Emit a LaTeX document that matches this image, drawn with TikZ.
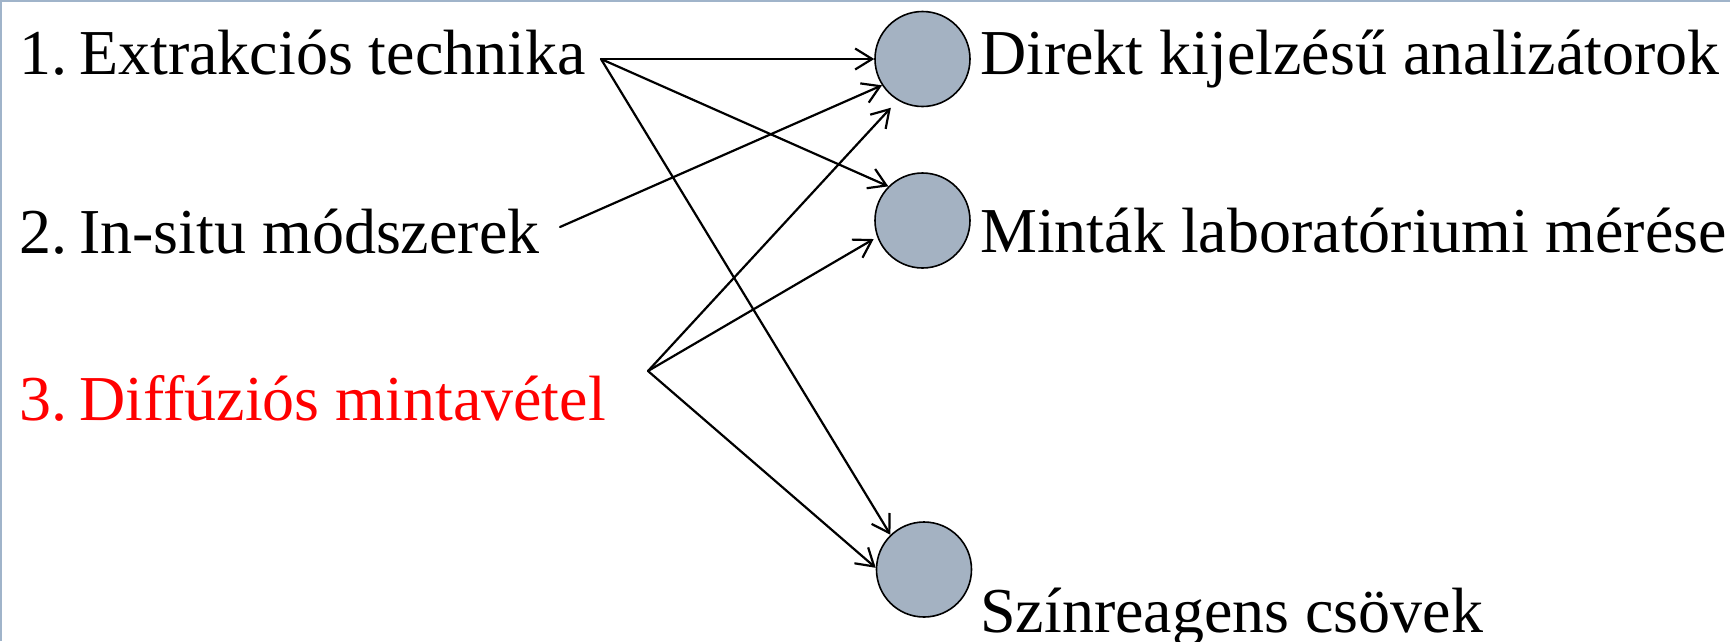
\documentclass[tikz,border=0pt]{standalone}
\usepackage{fontspec}
\setmainfont{Liberation Serif}
\newfontfamily\timesfont{Liberation Serif}
\usetikzlibrary{arrows.meta}
\definecolor{circfill}{RGB}{164,178,194}
\definecolor{framecol}{RGB}{160,180,202}
\definecolor{redtext}{RGB}{255,0,0}
\begin{document}
\begin{tikzpicture}[x=1pt,y=-1pt,
  lbl/.style={anchor=base west,inner sep=0pt,font=\timesfont\fontsize{64}{76}\selectfont},
  dot/.style={circle,draw=black,line width=1.6pt,fill=circfill,minimum size=95pt,inner sep=0pt},
  conn/.style={draw=black,line width=2.2pt,line cap=round,line join=round,
    -{Straight Barb[length=17pt,width=21pt,line width=2.2pt]}}]
\useasboundingbox (0,0) rectangle (1730,641);
\draw[framecol,line width=2pt] (1,641) -- (1,1) -- (1730,1);
% left labels
\node[lbl] (t1) at (19,74) {1.\hspace{12pt}Extrakciós technika};
\node[lbl] (t2) at (19,253) {2.\hspace{12pt}In-situ módszerek};
\node[lbl,text=redtext] (t3) at (19,420) {3.\hspace{12pt}Diffúziós mintavétel};
% circles
\node[dot] (c1) at (922.5,59) {};
\node[dot] (c2) at (922.5,220.5) {};
\node[dot] (c3) at (924,569.5) {};
% right labels
\node[lbl] (r1) at (980,74) {Direkt kijelzésű analizátorok};
\node[lbl] (r2) at (980,252) {Minták laboratóriumi mérése};
\node[lbl] (r3) at (980,632) {Színreagens csövek};
% connector start points
\coordinate (e1) at (601,59);
\coordinate (e2) at (560,227);
\coordinate (e3) at (648,371);
% connectors
\draw[conn] (e1) -- (c1.west);
\draw[conn] (e1) -- (c2.135);
\draw[conn] (e1) -- (c3.134);
\draw[conn] (e2) -- (c1.213);
\draw[conn,shorten >=10pt] (e3) -- (c1.239);
\draw[conn,shorten >=4pt] (e3) -- (c2.200);
\draw[conn] (e3) -- (c3.178);
\end{tikzpicture}
\end{document}
